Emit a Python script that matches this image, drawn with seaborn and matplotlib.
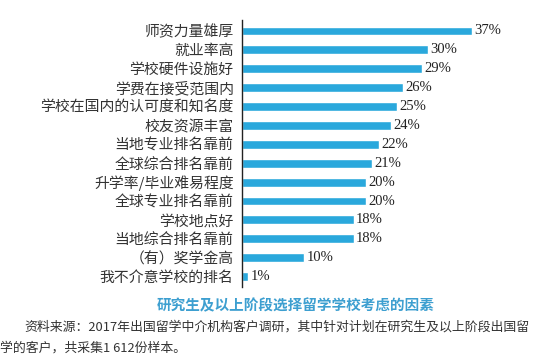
import matplotlib
matplotlib.use("Agg")
import matplotlib.pyplot as plt
import seaborn as sns
import pandas as pd

# data
factors = ["师资力量雄厚", "就业率高", "学校硬件设施好", "学费在接受范围内",
           "学校在国内的认可度和知名度", "校友资源丰富", "当地专业排名靠前",
           "全球综合排名靠前", "升学率/毕业难易程度", "全球专业排名靠前",
           "学校地点好", "当地综合排名靠前", "（有）奖学金高", "我不介意学校的排名"]
shares = [37, 30, 29, 26, 25, 24, 22, 21, 20, 20, 18, 18, 10, 1]

sns.set_theme(style="white")
plt.rcParams['font.family'] = ['Noto Sans CJK SC', 'DejaVu Sans']

df = pd.DataFrame({"factor": factors, "share": shares})

fig = plt.figure(figsize=(5.48, 3.64), dpi=100)
ax = fig.add_axes([0.4416, 0.2115, 0.5584, 0.7335])

sns.barplot(data=df, x="share", y="factor", color="#2aa8dc", width=0.47,
            saturation=1, ax=ax)

for i, v in enumerate(shares):
    ax.text(v + 0.4, i, f"{v}%", va="center", ha="left", fontsize=10.5,
            family="Liberation Serif", color="#222222")

ax.set_xlim(0, 49.3)
ax.set_ylim(13.55, -0.58)
ax.set_xlabel("")
ax.set_ylabel("")
ax.set_xticks([])
for s in ["top", "right", "bottom"]:
    ax.spines[s].set_visible(False)
ax.spines["left"].set_color("#222222")
ax.spines["left"].set_linewidth(1)
ax.tick_params(axis="y", length=0, pad=6, labelsize=10.7, labelcolor="#333333")

fig.text(0.54, 0.162, "研究生及以上阶段选择留学学校考虑的因素", ha="center", va="center",
         fontsize=10.5, color="#3d9fd0", fontweight="bold")
fig.text(0.045, 0.102, "资料来源：2017年出国留学中介机构客户调研，其中针对计划在研究生及以上阶段出国留",
         ha="left", va="center", fontsize=9.3, color="#333333")
fig.text(0.0, 0.044, "学的客户，共采集1 612份样本。",
         ha="left", va="center", fontsize=9.3, color="#333333")

fig.savefig("out.png", dpi=100)
